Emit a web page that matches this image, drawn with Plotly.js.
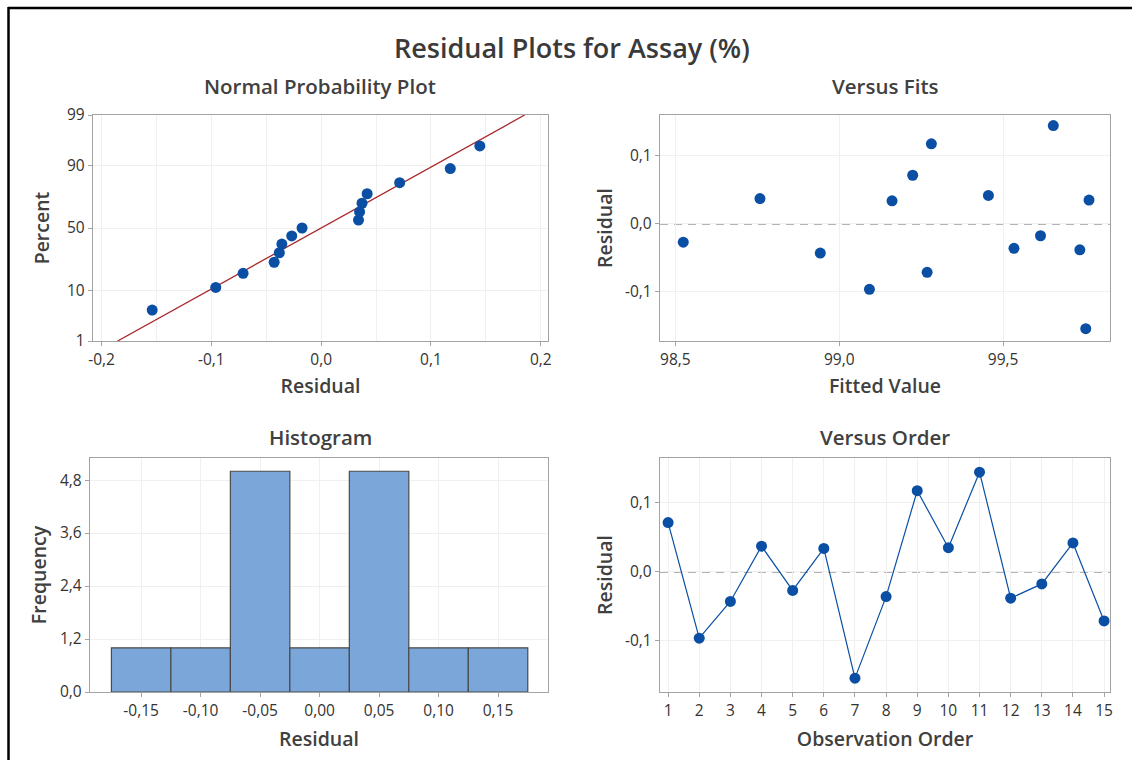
<!DOCTYPE html>
<html><head><meta charset="utf-8">
<script src="https://cdn.plot.ly/plotly-3.0.1.min.js"></script>
<style>html,body{margin:0;padding:0;background:#fff}#chart{width:1132px;height:760px}</style>
</head><body><div id="chart"></div>
<script>
// ---- data ----
const observationOrder = [1,2,3,4,5,6,7,8,9,10,11,12,13,14,15];
const residuals = [0.0715,-0.0960,-0.0428,0.0372,-0.0268,0.0340,-0.1539,-0.0358,0.1176,0.0350,0.1445,-0.0381,-0.0174,0.0419,-0.0711];
const fittedValues = [99.224,99.092,98.942,98.758,98.524,99.161,99.752,99.533,99.281,99.762,99.653,99.734,99.614,99.455,99.268];
const probPercent = [4.55,11.04,17.53,24.03,30.52,37.01,43.51,50.00,56.49,62.99,69.48,75.97,82.47,88.96,95.45];
const percentTicks = [1,10,50,90,99];
const percentTickText = ['1','10','50','90','99'];
const nppResidualTicks = [-0.2,-0.1,0,0.1,0.2];
const nppResidualTickText = ['-0,2','-0,1','0,0','0,1','0,2'];
const fitTicks = [98.5,99.0,99.5];
const fitTickText = ['98,5','99,0','99,5'];
const residualTicks = [-0.1,0,0.1];
const residualTickText = ['-0,1','0,0','0,1'];
const histTicks = [-0.15,-0.10,-0.05,0,0.05,0.10,0.15];
const histTickText = ['-0,15','-0,10','-0,05','0,00','0,05','0,10','0,15'];
const freqTicks = [0,1.2,2.4,3.6,4.8];
const freqTickText = ['0,0','1,2','2,4','3,6','4,8'];

// ---- helpers ----
function normInv(p){
  const a=[-3.969683028665376e+01,2.209460984245205e+02,-2.759285104469687e+02,1.383577518672690e+02,-3.066479806614716e+01,2.506628277459239e+00];
  const b=[-5.447609879822406e+01,1.615858368580409e+02,-1.556989798598866e+02,6.680131188771972e+01,-1.328068155288572e+01];
  const c=[-7.784894002430293e-03,-3.223964580411365e-01,-2.400758277161838e+00,-2.549732539343734e+00,4.374664141464968e+00,2.938163982698783e+00];
  const d=[7.784695709041462e-03,3.224671290700398e-01,2.445134137142996e+00,3.754408661907416e+00];
  const pl=0.02425; let q,r;
  if(p<pl){q=Math.sqrt(-2*Math.log(p));return (((((c[0]*q+c[1])*q+c[2])*q+c[3])*q+c[4])*q+c[5])/((((d[0]*q+d[1])*q+d[2])*q+d[3])*q+1);}
  if(p>1-pl){q=Math.sqrt(-2*Math.log(1-p));return -(((((c[0]*q+c[1])*q+c[2])*q+c[3])*q+c[4])*q+c[5])/((((d[0]*q+d[1])*q+d[2])*q+d[3])*q+1);}
  q=p-0.5;r=q*q;return (((((a[0]*r+a[1])*r+a[2])*r+a[3])*r+a[4])*r+a[5])*q/(((((b[0]*r+b[1])*r+b[2])*r+b[3])*r+b[4])*r+1);
}
const W=1132,H=760;
const px=(a,b)=>[a/W,b/W];
const py=(top,bot)=>[1-bot/H,1-top/H];

const sortedRes = residuals.slice().sort((a,b)=>a-b);
const n = residuals.length;
const mean = residuals.reduce((s,v)=>s+v,0)/n;
const sd = Math.sqrt(residuals.reduce((s,v)=>s+(v-mean)*(v-mean),0)/(n-1));
const zLo = normInv(0.01), zHi = normInv(0.99);

const BLUE='#0a4fa3', RED='#a8282a', FRAME='#a3a3a3', GRID='#f0f0f0', TXT='#3a3a3a';
const FONT='"Open Sans", "Noto Sans", sans-serif';

const traces = [
  {type:'scatter',mode:'lines',x:[mean+sd*zLo,mean+sd*zHi],y:[zLo,zHi],xaxis:'x',yaxis:'y',line:{color:RED,width:1.3},hoverinfo:'skip'},
  {type:'scatter',mode:'markers',x:sortedRes,y:probPercent.map(p=>normInv(p/100)),xaxis:'x',yaxis:'y',marker:{color:BLUE,size:11}},
  {type:'scatter',mode:'markers',x:fittedValues,y:residuals,xaxis:'x2',yaxis:'y2',marker:{color:BLUE,size:11}},
  {type:'histogram',x:residuals,xbins:{start:-0.175,end:0.175,size:0.05},xaxis:'x3',yaxis:'y3',
   marker:{color:'#7ba6d9',line:{color:'#4a4a4a',width:1.2}}},
  {type:'scatter',mode:'lines+markers',x:observationOrder,y:residuals,xaxis:'x4',yaxis:'y4',
   line:{color:BLUE,width:1.2},marker:{color:BLUE,size:11}}
];

function ax(o){
  return Object.assign({showline:true,mirror:true,linecolor:FRAME,linewidth:1.2,ticks:'outside',ticklen:4,tickcolor:FRAME,
    tickwidth:1,gridcolor:GRID,gridwidth:1,zeroline:false,showgrid:true,fixedrange:true,
    tickfont:{family:FONT,size:15.5,color:'#333',weight:500},tickmode:'array'},o);
}
const titleFont={family:FONT,size:19.5,color:'#404040',weight:600};
const subFont={family:FONT,size:20.5,color:'#404040',weight:600};

const layout = {
  width:W,height:H,margin:{l:0,r:0,t:0,b:0},showlegend:false,
  paper_bgcolor:'#fff',plot_bgcolor:'#fff',bargap:0,
  font:{family:FONT,color:TXT},
  xaxis: ax({domain:px(93,548),anchor:'y',range:[-0.2078,0.2066],tickvals:nppResidualTicks,ticktext:nppResidualTickText,
     minor:{tickmode:'array',tickvals:[-0.15,-0.05,0.05,0.15],showgrid:true,gridcolor:GRID,ticks:''},
     title:{text:'Residual',font:titleFont,standoff:10}}),
  yaxis: ax({domain:py(115,341),anchor:'x',range:[zLo,zHi],tickvals:percentTicks.map(p=>normInv(p/100)),ticktext:percentTickText,
     title:{text:'Percent',font:titleFont,standoff:12}}),
  xaxis2: ax({domain:px(660,1110),anchor:'y2',range:[98.453,99.826],tickvals:fitTicks,ticktext:fitTickText,
     title:{text:'Fitted Value',font:titleFont,standoff:10}}),
  yaxis2: ax({domain:py(115,341),anchor:'x2',range:[-0.172,0.160],tickvals:residualTicks,ticktext:residualTickText,
     title:{text:'Residual',font:titleFont,standoff:7}}),
  xaxis3: ax({domain:px(90,548),anchor:'y3',range:[-0.193,0.192],tickvals:histTicks,ticktext:histTickText,
     title:{text:'Residual',font:titleFont,standoff:12}}),
  yaxis3: ax({domain:py(458,692),anchor:'x3',range:[0,5.3],tickvals:freqTicks,ticktext:freqTickText,
     title:{text:'Frequency',font:titleFont,standoff:8}}),
  xaxis4: ax({domain:px(660,1110),anchor:'y4',range:[0.74,15.19],tickvals:observationOrder,ticktext:observationOrder.map(String),
     title:{text:'Observation Order',font:titleFont,standoff:12}}),
  yaxis4: ax({domain:py(458,692),anchor:'x4',range:[-0.174,0.165],tickvals:residualTicks,ticktext:residualTickText,
     title:{text:'Residual',font:titleFont,standoff:7}}),
  shapes:[
    {type:'line',xref:'x2 domain',yref:'y2',x0:0,x1:1,y0:0,y1:0,line:{color:'#9a9a9a',width:1.5,dash:'8px,6px'},layer:'below'},
    {type:'line',xref:'x4 domain',yref:'y4',x0:0,x1:1,y0:0,y1:0,line:{color:'#9a9a9a',width:1.5,dash:'8px,6px'},layer:'below'},
    {type:'line',xref:'paper',yref:'paper',x0:8/W,x1:1,y0:1-8/H,y1:1-8/H,line:{color:'#000',width:2.5}},
    {type:'line',xref:'paper',yref:'paper',x0:8.5/W,x1:8.5/W,y0:1-7/H,y1:0,line:{color:'#000',width:2.5}}
  ],
  annotations:[
    {text:'Residual Plots for Assay (%)',xref:'paper',yref:'paper',x:572/W,y:1-47/H,showarrow:false,font:{family:FONT,size:27,color:'#3a3a3a',weight:600},xanchor:'center',yanchor:'middle'},
    {text:'Normal Probability Plot',xref:'paper',yref:'paper',x:320/W,y:1-86/H,showarrow:false,font:subFont,xanchor:'center',yanchor:'middle'},
    {text:'Versus Fits',xref:'paper',yref:'paper',x:885/W,y:1-86/H,showarrow:false,font:subFont,xanchor:'center',yanchor:'middle'},
    {text:'Histogram',xref:'paper',yref:'paper',x:320/W,y:1-437/H,showarrow:false,font:subFont,xanchor:'center',yanchor:'middle'},
    {text:'Versus Order',xref:'paper',yref:'paper',x:885/W,y:1-437/H,showarrow:false,font:subFont,xanchor:'center',yanchor:'middle'}
  ]
};
Plotly.newPlot('chart',traces,layout,{displayModeBar:false,staticPlot:true});
</script></body></html>
